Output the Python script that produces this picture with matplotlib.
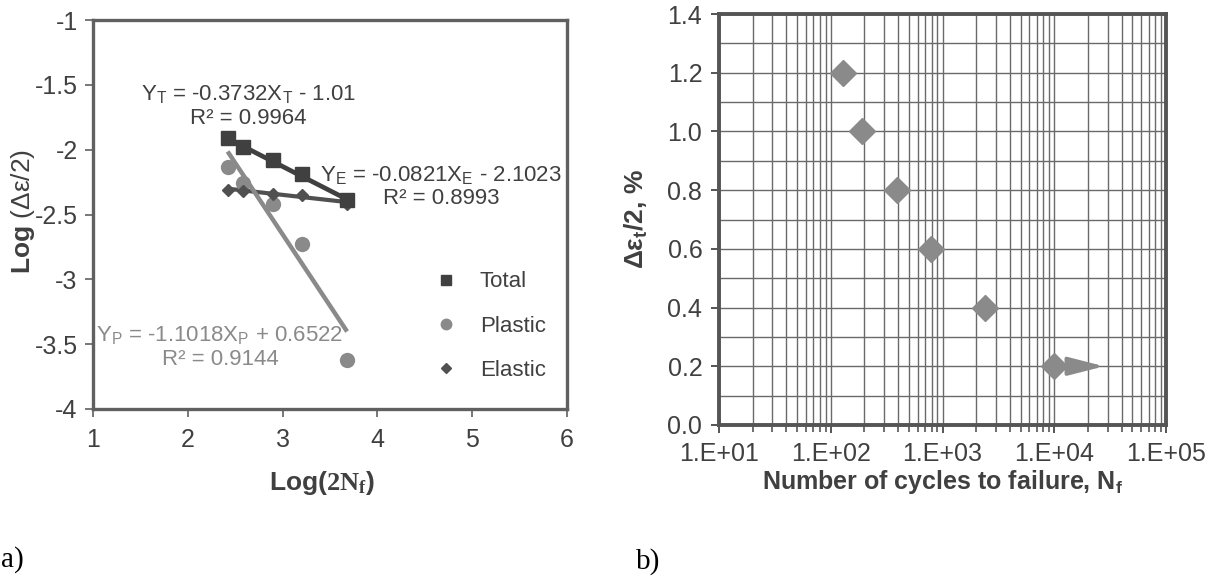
import math
import matplotlib
matplotlib.use("Agg")
import matplotlib.pyplot as plt
from matplotlib.lines import Line2D
from matplotlib.ticker import FixedLocator, FuncFormatter, LogLocator, NullFormatter, MultipleLocator

plt.rcParams["font.family"] = ["Liberation Sans", "DejaVu Sans"]
plt.rcParams["axes.unicode_minus"] = False
plt.rcParams["mathtext.fontset"] = "custom"
plt.rcParams["mathtext.rm"] = "Liberation Sans"
plt.rcParams["mathtext.it"] = "Liberation Sans:italic"
plt.rcParams["mathtext.bf"] = "Liberation Sans:bold"
plt.rcParams["mathtext.sf"] = "Liberation Serif:bold"

# ---- (a) strain-life data, log-log ----
log_2nf = [2.42, 2.58, 2.90, 3.20, 3.68]
log_total = [-1.91, -1.98, -2.08, -2.19, -2.39]
log_plastic = [-2.13, -2.26, -2.42, -2.73, -3.62]
log_elastic = [-2.31, -2.32, -2.34, -2.35, -2.42]

# linear fits (slope, intercept, R²)
fit_total = (-0.3732, -1.01, 0.9964)
fit_elastic = (-0.0821, -2.1023, 0.8993)
fit_plastic = (-1.1018, 0.6522, 0.9144)

# ---- (b) strain amplitude vs. cycles to failure ----
cycles = [130, 190, 390, 790, 2400, 10000]
strain_amp = [1.2, 1.0, 0.8, 0.6, 0.4, 0.2]
runout_end = 28000

DARK = "#404040"
MID = "#505050"
LIGHT = "#8a8a8a"
FRAME = "#606060"
TICKCOL = "#404040"
TICK_FS = 18
TEXT_FS = 16
LABEL_FS = 18

fig = plt.figure(figsize=(12.17, 5.82), dpi=100)

# ================= panel (a) =================
ax1 = fig.add_axes([93 / 1217, 1 - 409 / 582, (567 - 93) / 1217, (409 - 20) / 582])
ax1.set_xlim(1, 6)
ax1.set_ylim(-4, -1)
ax1.xaxis.set_major_locator(MultipleLocator(1))
ax1.yaxis.set_major_locator(MultipleLocator(0.5))
ax1.yaxis.set_major_formatter(FuncFormatter(lambda v, p: "%g" % v))
ax1.xaxis.set_major_formatter(FuncFormatter(lambda v, p: "%g" % v))
for s in ax1.spines.values():
    s.set_color(FRAME)
    s.set_linewidth(2.4)
ax1.tick_params(direction="out", length=6, width=1.2, color=FRAME,
                labelsize=TICK_FS, labelcolor=TICKCOL, pad=5)
ax1.tick_params(axis="x", pad=8)

xs = [log_2nf[0], log_2nf[-1]]


def fit_line(fit):
    m, b, _ = fit
    return [m * x + b for x in xs]


ax1.plot(xs, fit_line(fit_total), color=DARK, lw=3.4, solid_capstyle="butt")
ax1.plot(xs, fit_line(fit_elastic), color=MID, lw=3.0, solid_capstyle="butt")
ax1.plot(xs, fit_line(fit_plastic), color=LIGHT, lw=3.2, solid_capstyle="butt")

ax1.plot(log_2nf, log_plastic, ls="none", marker="o", ms=10, color=LIGHT, mec=LIGHT)
ax1.plot(log_2nf, log_elastic, ls="none", marker="D", ms=6.5, color=MID, mec=MID)
ax1.plot(log_2nf, log_total, ls="none", marker="s", ms=10, color=DARK, mec=DARK)


def eq_text(fit, sub):
    m, b, r2 = fit
    sign = "-" if b < 0 else "+"
    return ("Y$_\\mathrm{%s}$ = %gX$_\\mathrm{%s}$ %s %g\nR² = %.4f"
            % (sub, m, sub, sign, abs(b), r2))


ax1.text(2.64, -1.665, eq_text(fit_total, "T"), ha="center", va="center",
         fontsize=TEXT_FS, color=DARK, linespacing=1.1)
ax1.text(4.67, -2.285, eq_text(fit_elastic, "E"), ha="center", va="center",
         fontsize=TEXT_FS, color=DARK, linespacing=1.1)
ax1.text(2.34, -3.525, eq_text(fit_plastic, "P"), ha="center", va="center",
         fontsize=TEXT_FS, color=LIGHT, linespacing=1.1)

handles = [
    Line2D([], [], ls="none", marker="s", ms=7.5, color=DARK, label="Total"),
    Line2D([], [], ls="none", marker="o", ms=7.5, color=LIGHT, label="Plastic"),
    Line2D([], [], ls="none", marker="D", ms=5.5, color=MID, label="Elastic"),
]
ax1.legend(handles=handles, loc="center left", bbox_to_anchor=(0.68, 0.213),
           frameon=False, fontsize=TEXT_FS, handlelength=1.0, handletextpad=1.0,
           labelspacing=1.05, labelcolor=DARK)

fig.text(23 / 1217, 1 - 211 / 582, r"$\mathbf{Log}$ (Δε/2)", rotation=90,
         ha="center", va="center", fontsize=LABEL_FS + 1, color=DARK)
fig.text(322 / 1217, 1 - 483 / 582, r"$\mathbf{Log(}\mathsf{2N_f}\mathbf{)}$",
         ha="center", va="center", fontsize=LABEL_FS + 1, color=DARK)

# ================= panel (b) =================
ax2 = fig.add_axes([719 / 1217, 1 - 425 / 582, (1166 - 719) / 1217, (425 - 14) / 582])
ax2.set_xscale("log")
ax2.set_xlim(10, 1e5)
ax2.set_ylim(0, 1.4)
ax2.xaxis.set_major_locator(FixedLocator([1e1, 1e2, 1e3, 1e4, 1e5]))
ax2.xaxis.set_major_formatter(FuncFormatter(lambda v, p: "1.E+%02d" % round(math.log10(v))))
ax2.xaxis.set_minor_locator(LogLocator(base=10, subs=range(2, 10)))
ax2.xaxis.set_minor_formatter(NullFormatter())
ax2.yaxis.set_major_locator(MultipleLocator(0.2))
ax2.yaxis.set_minor_locator(MultipleLocator(0.1))
ax2.yaxis.set_major_formatter(FuncFormatter(lambda v, p: "%.1f" % v))
ax2.grid(which="both", color="#6a6a6a", lw=1.0)
ax2.set_axisbelow(True)
for s in ax2.spines.values():
    s.set_color("#555555")
    s.set_linewidth(2.8)
ax2.tick_params(which="major", direction="out", length=6, width=1.4, color="#555555",
                labelsize=TICK_FS, labelcolor=TICKCOL, pad=6)
ax2.tick_params(which="minor", direction="out", length=5, width=1.2, color="#555555")
ax2.tick_params(axis="y", which="minor", length=0)

ax2.annotate("", xy=(runout_end, strain_amp[-1]), xytext=(cycles[-1], strain_amp[-1]),
             arrowprops=dict(arrowstyle="-|>,head_length=1.1,head_width=0.28",
                             color=LIGHT, lw=2.6, mutation_scale=20, shrinkA=0, shrinkB=0))
ax2.plot(cycles, strain_amp, ls="none", marker="D", ms=13, color=LIGHT, mec=LIGHT, zorder=5)

ax2.set_xlabel(r"Number of cycles to failure, N$_\mathbf{f}$", fontsize=LABEL_FS,
               fontweight="bold", color=DARK, labelpad=2)
ax2.set_ylabel(r"Δε$_\mathbf{t}$/2, %", fontsize=LABEL_FS + 1, fontweight="bold", color=DARK)
ax2.yaxis.set_label_coords(-0.155, 0.5)

# panel tags
fig.text(1 / 1217, 1 - 560 / 582, "a)", ha="left", va="center", fontsize=21,
         family="Liberation Serif", color="black")
fig.text(636 / 1217, 1 - 562 / 582, "b)", ha="left", va="center", fontsize=21,
         family="Liberation Serif", color="black")

fig.savefig("out.png", dpi=100, facecolor="white")
